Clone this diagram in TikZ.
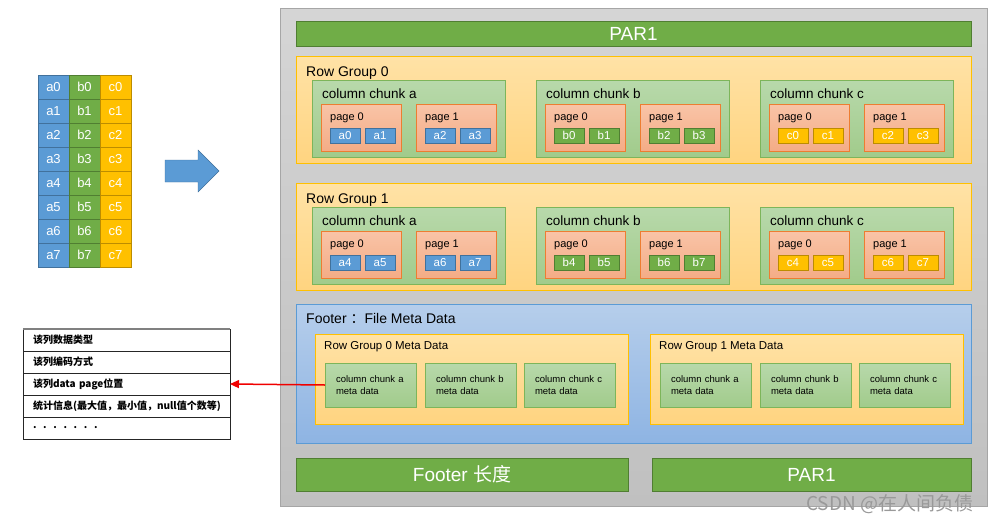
\documentclass[tikz,border=0pt]{standalone}
\usepackage{fontspec}
\setmainfont{Liberation Sans}
\newfontfamily\cjk{Noto Sans CJK SC}
\usetikzlibrary{arrows.meta}

\definecolor{filetop}{HTML}{D5D5D5}
\definecolor{filebot}{HTML}{C0C0C0}
\definecolor{fileline}{HTML}{A6A6A6}
\definecolor{parfill}{HTML}{70AD47}
\definecolor{parline}{HTML}{507E32}
\definecolor{goldtop}{HTML}{FFE2A6}
\definecolor{goldbot}{HTML}{FFD480}
\definecolor{goldline}{HTML}{FFC000}
\definecolor{chunktop}{HTML}{B8D9AB}
\definecolor{chunkbot}{HTML}{A1CB8B}
\definecolor{chunkline}{HTML}{7DB55A}
\definecolor{pagetop}{HTML}{F9C4A7}
\definecolor{pagebot}{HTML}{F4AC86}
\definecolor{pageline}{HTML}{ED7D31}
\definecolor{foottop}{HTML}{B6CEEB}
\definecolor{footbot}{HTML}{8EB4E3}
\definecolor{footline}{HTML}{5B9BD5}
\definecolor{cell-a}{HTML}{5B9BD5}
\definecolor{line-a}{HTML}{41719C}
\definecolor{cell-b}{HTML}{70AD47}
\definecolor{line-b}{HTML}{507E32}
\definecolor{cell-c}{HTML}{FFC000}
\definecolor{line-c}{HTML}{BC8C00}
\definecolor{arrowblue}{HTML}{5B9BD5}
\definecolor{arrowred}{HTML}{F00000}

\tikzset{
  blk/.style={draw, anchor=north west, inner sep=0pt, outer sep=0pt},
  lbl/.style={anchor=base west, inner sep=0pt},
  parbar/.style={blk, fill=parfill, draw=parline, text=white, font=\fontsize{19}{19}\selectfont, minimum height=25pt},
  groupbox/.style={blk, draw=goldline, top color=goldtop, bottom color=goldbot, minimum width=675pt, minimum height=107pt},
  chunkbox/.style={blk, draw=chunkline, top color=chunktop, bottom color=chunkbot, minimum width=193pt, minimum height=77pt},
  pagebox/.style={blk, draw=pageline, top color=pagetop, bottom color=pagebot, minimum width=80pt, minimum height=47pt},
  cell/.style={blk, minimum width=30pt, minimum height=15pt, text=white, font=\fontsize{11.5}{11.5}\selectfont},
  datacell/.style={blk, minimum width=31pt, minimum height=24pt, text=white, font=\fontsize{13}{13}\selectfont},
  grouplabel/.style={lbl, font=\fontsize{14}{14}\selectfont},
  chunklabel/.style={lbl, font=\fontsize{13.5}{13.5}\selectfont},
  pagelabel/.style={lbl, font=\fontsize{11}{11}\selectfont},
  metagroup/.style={blk, draw=goldline, top color=goldtop, bottom color=goldbot, minimum width=313pt, minimum height=90pt},
  metalabel/.style={lbl, font=\fontsize{11.5}{11.5}\selectfont},
  metachunk/.style={blk, draw=chunkline, top color=chunktop, bottom color=chunkbot, minimum width=91pt, minimum height=44pt,
    text width=69pt, align=left, inner xsep=11pt, font=\fontsize{9.5}{12}\selectfont},
  listrow/.style={blk, draw=black!85, line width=0.8pt, text width=187pt, inner xsep=10pt, minimum height=22pt,
    align=left, font=\cjk\bfseries\fontsize{10}{12}\selectfont}
}

\begin{document}
\begin{tikzpicture}[x=1pt,y=-1pt]
  \useasboundingbox (0,0) rectangle (1003,522);
  % source columns a, b, c
  \foreach \c/\cx in {a/38,b/69,c/100}
    \foreach \r in {0,...,7}
      \node[datacell, fill=cell-\c, draw=line-\c] (d\c\r) at (\cx,75+24*\r) {\c\r};
  \fill[arrowblue, draw=line-a] (165,160) -- (198,160) -- (198,150) -- (219,171)
                                -- (198,192) -- (198,182) -- (165,182) -- cycle;

  % parquet file
  \node[blk, draw=fileline, top color=filetop, bottom color=filebot, minimum width=707pt, minimum height=498pt] (file) at (280,8) {};
  \node[parbar, minimum width=675pt] (par1) at (296,21) {PAR1};

  \foreach \g/\gy in {0/56,1/183}{
    \node[groupbox] (rg\g) at (296,\gy) {};
    \node[grouplabel] at (306,\gy+20) {Row Group \g};
    \foreach \c/\cx in {a/312,b/536,c/760}{
      \node[chunkbox] (ck\g\c) at (\cx,\gy+24) {};
      \node[chunklabel] at (\cx+10,\gy+42) {column chunk \c};
      \foreach \p/\px in {0/9,1/104}{
        \node[pagebox] (pg\g\c\p) at (\cx+\px,\gy+48) {};
        \node[pagelabel] at (\cx+\px+9,\gy+64) {page \p};
        \foreach \k/\kx in {0/9,1/44}{
          \pgfmathtruncatemacro\n{4*\g+2*\p+\k}
          \node[cell, fill=cell-\c, draw=line-\c] (cl\g\c\p\k) at (\cx+\px+\kx,\gy+72) {\c\n};
        }
      }
    }
  }

  % footer
  \node[blk, draw=footline, top color=foottop, bottom color=footbot, minimum width=675pt, minimum height=139pt] (foot) at (296,304) {};
  \node[grouplabel] at (306,323) {Footer {\cjk ：}File Meta Data};
  \foreach \g/\mx in {0/315,1/650}{
    \node[metagroup] (mg\g) at (\mx,334) {};
    \node[metalabel] at (\mx+9,349) {Row Group \g{} Meta Data};
    \foreach \c/\dx in {a/10,b/110,c/209}
      \node[metachunk] (md\g\c) at (\mx+\dx,363) {column chunk \c\\meta data};
  }
  \node[parbar, minimum width=332pt, minimum height=33pt] (flen) at (296,458) {Footer {\cjk 长度}};
  \node[parbar, minimum width=319pt, minimum height=33pt] (par2) at (652,458) {PAR1};

  % column chunk meta data contents
  \foreach \txt [count=\i from 0] in {该列数据类型, 该列编码方式, 该列data page位置,
      {统计信息(最大值，最小值，null值个数等)}, {.\ \ .\ \ .\ \ .\ \ .\ \ .\ \ .}}
    \node[listrow] (li\i) at (23,329+22*\i) {\txt};
  \draw[black!50, line width=1.5pt] (li0.north west) -- (li0.north east);
  \draw[arrowred, line width=1.5pt, -{Triangle[length=9pt,width=8pt]}] (md0a.west) -- (li2.east);

  \node[lbl, text=black!40, font=\cjk\fontsize{19}{19}\selectfont] (mark) at (806,510) {CSDN @在人间负债};
\end{tikzpicture}
\end{document}
